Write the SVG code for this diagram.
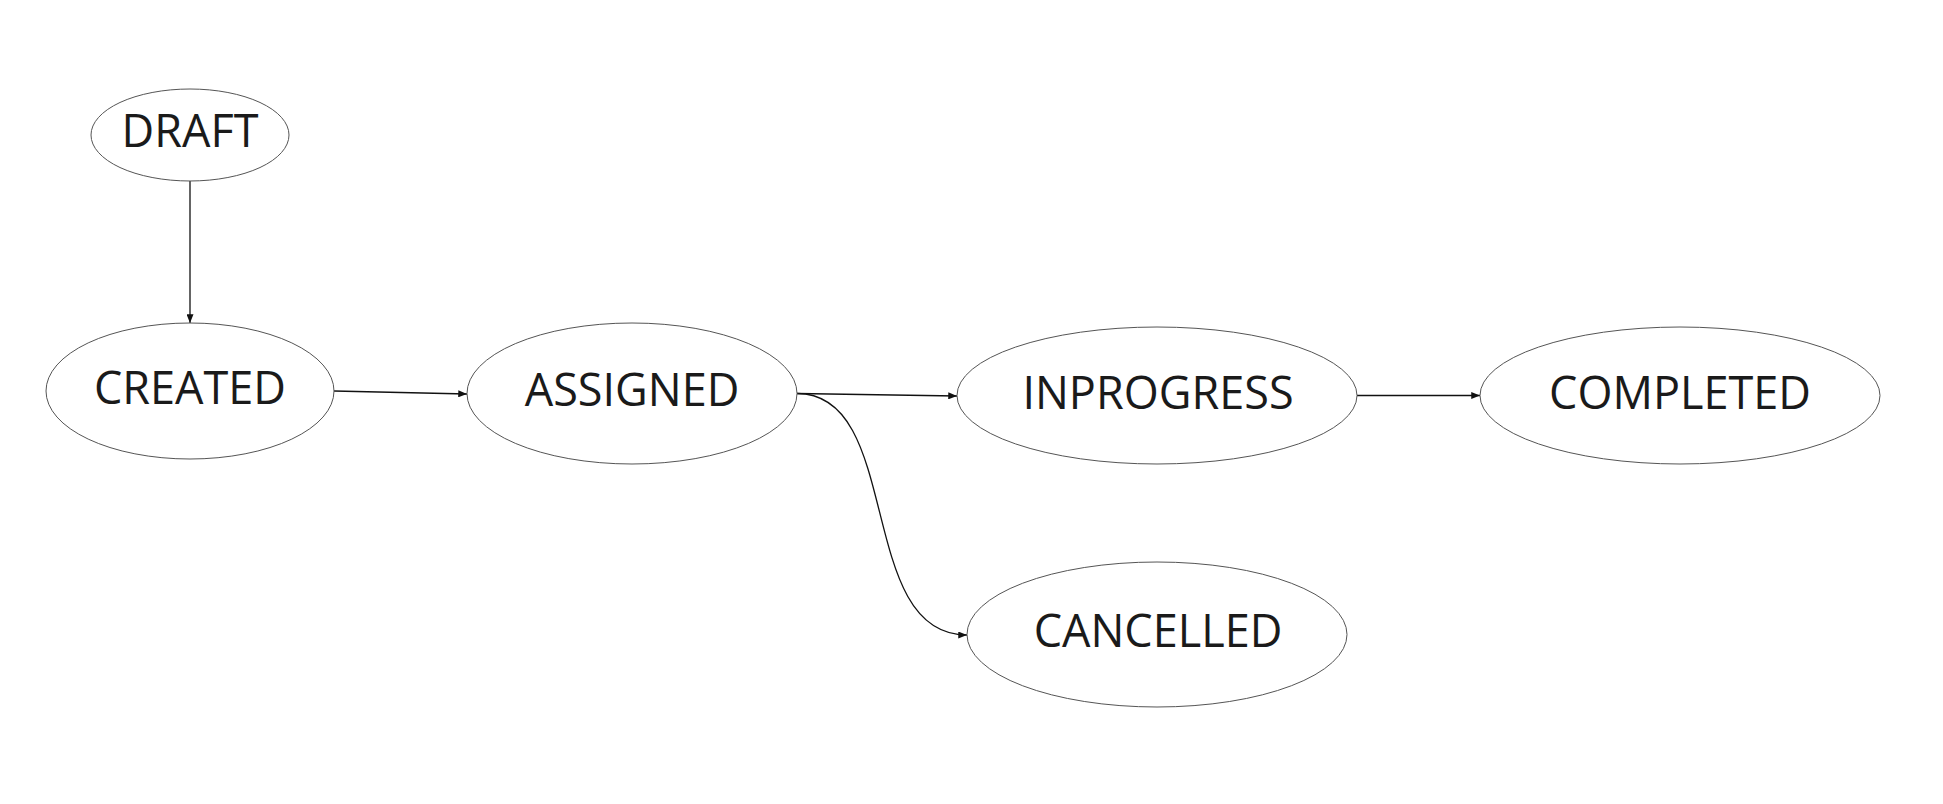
<svg xmlns="http://www.w3.org/2000/svg" width="1943" height="804" viewBox="0 0 1943 804">
<style>
.node ellipse{fill:#ffffff;stroke:#555555;stroke-width:1}
.node text{font-family:"Open Sans","Noto Sans",sans-serif;font-size:45px;fill:#1a1a1a;text-anchor:middle}
.edge{fill:none;stroke:#111111;stroke-width:1.3;marker-end:url(#arrow)}
</style>
<defs>
<marker id="arrow" viewBox="0 0 10 8" refX="10" refY="4" markerWidth="9" markerHeight="7" markerUnits="userSpaceOnUse" orient="auto">
<path d="M0,0 L10,4 L0,8 z" fill="#111111"/>
</marker>
</defs>
<rect width="1943" height="804" fill="#ffffff"/>
<g id="connectors">
<path class="edge" d="M190,181 L190,323"/>
<path class="edge" d="M334,391 L467,394"/>
<path class="edge" d="M797,393.5 L957,396"/>
<path class="edge" d="M797,393.5 C904,393.5 855,635 967,635"/>
<path class="edge" d="M1357,395.5 L1480,395.5"/>
</g>
<g id="DRAFT" class="node"><ellipse cx="190" cy="135" rx="99" ry="46"/><text x="190" y="146.5">DRAFT</text></g>
<g id="CREATED" class="node"><ellipse cx="190" cy="391" rx="144" ry="68"/><text x="190" y="403.5">CREATED</text></g>
<g id="ASSIGNED" class="node"><ellipse cx="632" cy="393.5" rx="165" ry="70.5"/><text x="632" y="406">ASSIGNED</text></g>
<g id="INPROGRESS" class="node"><ellipse cx="1157" cy="395.5" rx="200" ry="68.5"/><text x="1158" y="408.5">INPROGRESS</text></g>
<g id="COMPLETED" class="node"><ellipse cx="1680" cy="395.5" rx="200" ry="68.5"/><text x="1680" y="408.5">COMPLETED</text></g>
<g id="CANCELLED" class="node"><ellipse cx="1157" cy="634.5" rx="190" ry="72.5"/><text x="1158" y="646.5">CANCELLED</text></g>
</svg>
